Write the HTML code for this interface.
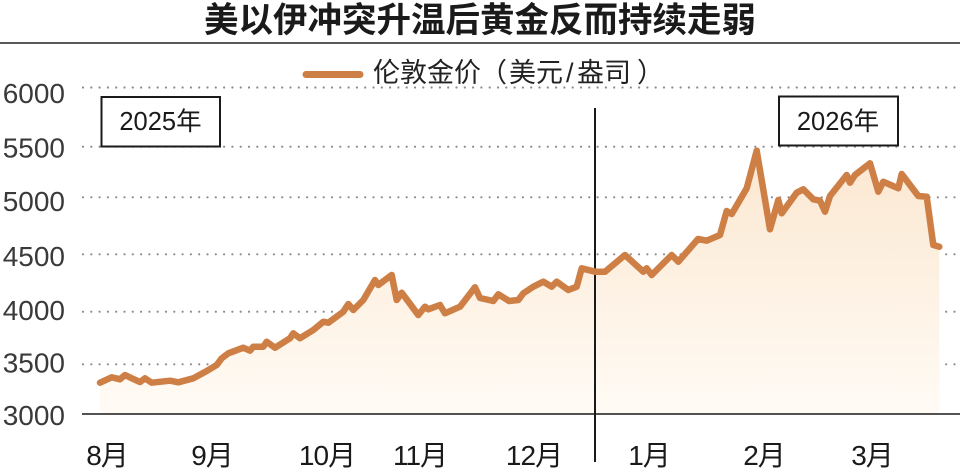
<!DOCTYPE html>
<html>
<head>
<meta charset="utf-8">
<style>
  html,body{margin:0;padding:0;background:#fff;}
  body{width:960px;height:470px;overflow:hidden;}
  svg{display:block;}
  .cjk{font-family:"Liberation Sans","Noto Sans CJK SC",sans-serif;}
  .ncjk{font-family:"Noto Sans CJK SC","Liberation Sans",sans-serif;}
</style>
</head>
<body>
<svg width="960" height="470" viewBox="0 0 960 470" xmlns="http://www.w3.org/2000/svg">
  <defs>
    <linearGradient id="fillg" gradientUnits="userSpaceOnUse" x1="0" y1="150" x2="0" y2="414">
      <stop offset="0" stop-color="#fbe7d0"/>
      <stop offset="1" stop-color="#fffbf5"/>
    </linearGradient>
  </defs>
  <rect width="960" height="470" fill="#fff"/>

  <!-- Title -->
  <text x="480" y="32" text-anchor="middle" class="cjk" font-size="34.5" font-weight="bold" fill="#1a1a1a">美以伊冲突升温后黄金反而持续走弱</text>
  <line x1="0" y1="43" x2="960" y2="43" stroke="#222" stroke-width="1.6"/>

  <!-- Gridlines (dotted) -->
  <g stroke="#8a8a8a" stroke-width="2.2" stroke-linecap="round" stroke-dasharray="0 8.3" fill="none">
    <line x1="83" y1="87.5" x2="960" y2="87.5"/>
    <line x1="83" y1="146.7" x2="960" y2="146.7"/>
    <line x1="83" y1="197.3" x2="960" y2="197.3"/>
    <line x1="83" y1="254.3" x2="960" y2="254.3"/>
    <line x1="83" y1="311.7" x2="960" y2="311.7"/>
    <line x1="83" y1="364.3" x2="960" y2="364.3"/>
  </g>

  <!-- Y labels -->
  <g font-family="Liberation Sans, sans-serif" font-size="28" fill="#3a3a3a" text-anchor="end">
    <text x="65" y="103">6000</text>
    <text x="65" y="157.5">5500</text>
    <text x="65" y="211">5000</text>
    <text x="65" y="266">4500</text>
    <text x="65" y="320">4000</text>
    <text x="65" y="372.5">3500</text>
    <text x="65" y="425">3000</text>
  </g>

  <!-- Area fill -->
  <path fill="url(#fillg)" stroke="none" d="M100,414 L100,382.7 L111.7,377.3 L120,379.3 L125,375 L133.3,379 L140,382 L145,378.3 L151.7,382.7 L170,380.7 L178.3,382.3 L193.3,378.3 L206.7,371 L216.7,365 L221.7,358.3 L228.3,353.3 L243.3,347.7 L250,350.7 L253.3,346.7 L263.3,346.7 L266.7,341.7 L275,347.7 L290,338.3 L293.3,333.3 L300,338.3 L313.3,330 L323.3,321.7 L328.3,322.7 L343.3,311.7 L348.3,304 L353.3,310 L363.3,300 L375,280 L378.3,285 L391.7,275 L396.7,300 L401.7,292.7 L418.3,315 L425,306.7 L428.3,309.3 L440,305 L445,313.3 L460,306.7 L475,287.3 L480,298 L493.3,301 L498.3,294.3 L509,301 L518.3,300 L523.3,293.3 L533.3,286.7 L543.3,281.7 L551.7,286.7 L556.7,281.7 L568.3,290 L576.7,286.7 L581.7,268.3 L595,271.7 L605,271.7 L625,255 L643.3,271.7 L646.7,268.3 L651.7,275 L671.7,255 L678.3,261.7 L698,239 L706.7,240.7 L720,235 L726.7,211 L731.7,214 L746.7,188.3 L756.7,150.7 L770,229.3 L778.3,200 L781.7,213.3 L796.7,192.7 L803.3,189.3 L813.3,199.3 L820,200.7 L825,211.7 L830,196 L846.7,175 L850,182.7 L855,175 L870,163.3 L878.3,191.7 L883.3,181.7 L898.3,188.3 L901.7,174 L918.3,196 L926.7,196.7 L933.3,245 L939.3,246.7 L939.3,414 Z"/>

  <!-- Axis baseline -->
  <line x1="82" y1="414" x2="960" y2="414" stroke="#1a1a1a" stroke-width="1.6"/>

  <!-- Year divider -->
  <line x1="595" y1="108" x2="595" y2="462" stroke="#1a1a1a" stroke-width="2"/>

  <!-- Series line -->
  <path fill="none" stroke="#cd7f46" stroke-width="6.5" stroke-linejoin="round" stroke-linecap="round" d="M100,382.7 L111.7,377.3 L120,379.3 L125,375 L133.3,379 L140,382 L145,378.3 L151.7,382.7 L170,380.7 L178.3,382.3 L193.3,378.3 L206.7,371 L216.7,365 L221.7,358.3 L228.3,353.3 L243.3,347.7 L250,350.7 L253.3,346.7 L263.3,346.7 L266.7,341.7 L275,347.7 L290,338.3 L293.3,333.3 L300,338.3 L313.3,330 L323.3,321.7 L328.3,322.7 L343.3,311.7 L348.3,304 L353.3,310 L363.3,300 L375,280 L378.3,285 L391.7,275 L396.7,300 L401.7,292.7 L418.3,315 L425,306.7 L428.3,309.3 L440,305 L445,313.3 L460,306.7 L475,287.3 L480,298 L493.3,301 L498.3,294.3 L509,301 L518.3,300 L523.3,293.3 L533.3,286.7 L543.3,281.7 L551.7,286.7 L556.7,281.7 L568.3,290 L576.7,286.7 L581.7,268.3 L595,271.7 L605,271.7 L625,255 L643.3,271.7 L646.7,268.3 L651.7,275 L671.7,255 L678.3,261.7 L698,239 L706.7,240.7 L720,235 L726.7,211 L731.7,214 L746.7,188.3 L756.7,150.7 L770,229.3 L778.3,200 L781.7,213.3 L796.7,192.7 L803.3,189.3 L813.3,199.3 L820,200.7 L825,211.7 L830,196 L846.7,175 L850,182.7 L855,175 L870,163.3 L878.3,191.7 L883.3,181.7 L898.3,188.3 L901.7,174 L918.3,196 L926.7,196.7 L933.3,245 L939.3,246.7"/>

  <!-- Legend -->
  <line x1="306" y1="74.5" x2="360" y2="74.5" stroke="#cd7f46" stroke-width="7" stroke-linecap="round"/>
  <g class="ncjk" font-size="27" fill="#222">
    <text x="373" y="82">伦敦金价</text>
    <text x="480" y="82">（</text>
    <text x="509" y="82">美元</text>
    <text x="566" y="82" font-family="Liberation Sans, sans-serif">/</text>
    <text x="577" y="82">盎司</text>
    <text x="637" y="82">）</text>
  </g>

  <!-- Year boxes -->
  <rect x="101.5" y="97" width="118.5" height="49.5" fill="#fff" stroke="#1a1a1a" stroke-width="2"/>
  <text x="160.5" y="130" text-anchor="middle" class="cjk" font-size="25.5" fill="#1a1a1a">2025年</text>
  <rect x="779" y="96.5" width="119" height="49" fill="#fff" stroke="#1a1a1a" stroke-width="2"/>
  <text x="838" y="130" text-anchor="middle" class="cjk" font-size="25.5" fill="#1a1a1a">2026年</text>

  <!-- X labels -->
  <g class="cjk" font-size="28" fill="#1a1a1a" text-anchor="middle" letter-spacing="-1">
    <text x="107" y="465">8月</text>
    <text x="212" y="465">9月</text>
    <text x="327" y="465">10月</text>
    <text x="420" y="465">11月</text>
    <text x="534" y="465">12月</text>
    <text x="649" y="465">1月</text>
    <text x="764" y="465">2月</text>
    <text x="872" y="465">3月</text>
  </g>
</svg>
</body>
</html>
